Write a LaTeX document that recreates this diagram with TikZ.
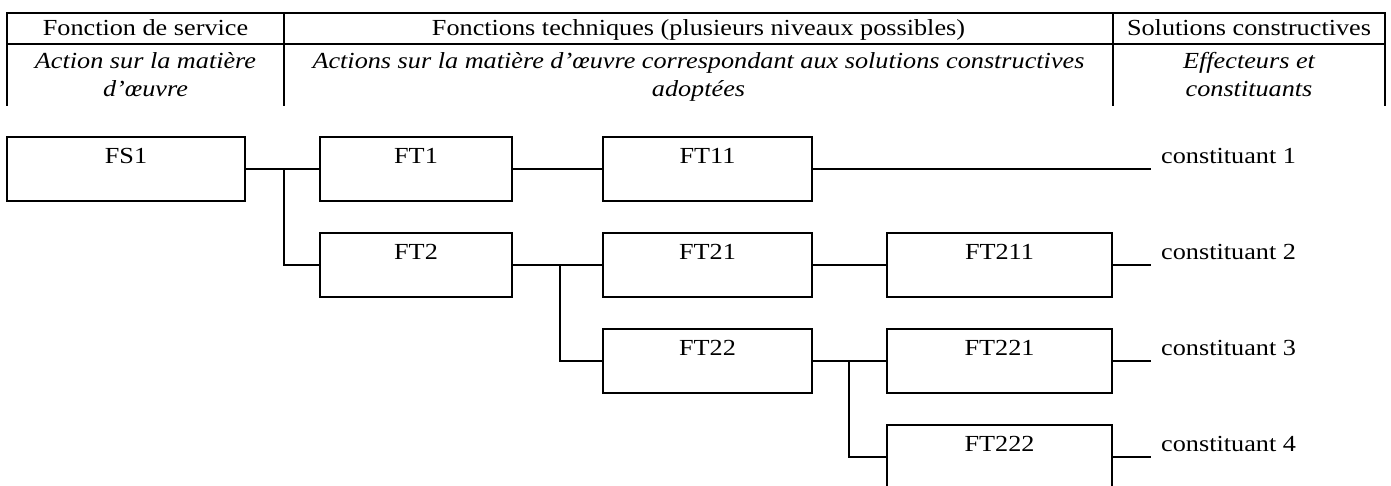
\documentclass[tikz,border=0pt]{standalone}
\usepackage{fontspec}
\usepackage{graphicx}
\setmainfont{Liberation Serif}
\newcommand{\sx}[1]{\scalebox{1.14}[1]{#1}}
\tikzset{
  ln/.style={line width=2pt, line cap=rect},
  fbox/.style={draw, line width=2pt, rectangle, inner sep=0pt, outer sep=0pt, minimum height=64pt, anchor=north west},
  lab/.style={inner sep=0pt, anchor=base, font=\fontsize{23}{28}\selectfont},
  itlab/.style={lab, font=\fontsize{23}{28}\selectfont\itshape},
  clab/.style={lab, anchor=base west},
  conn/.style={line width=2pt}
}
\begin{document}
\begin{tikzpicture}[x=1pt,y=-1pt]
\clip (0,0) rectangle (1391,485);
% header table
\draw[ln] (7,13) -- (1385,13);
\draw[ln] (7,44) -- (1385,44);
\draw[line width=2pt] (7,12) -- (7,106);
\draw[line width=2pt] (284,12) -- (284,106);
\draw[line width=2pt] (1113,12) -- (1113,106);
\draw[line width=2pt] (1385,12) -- (1385,106);
\node[lab] (h1) at (145.5,35) {\sx{Fonction de service}};
\node[lab] (h2) at (698.5,35) {\sx{Fonctions techniques (plusieurs niveaux possibles)}};
\node[lab] (h3) at (1249,35) {\sx{Solutions constructives}};
\node[itlab] (h1a) at (145.5,68) {\sx{Action sur la matière}};
\node[itlab] (h1b) at (145.5,96) {\sx{d’œuvre}};
\node[itlab] (h2a) at (698.5,68) {\sx{Actions sur la matière d’œuvre correspondant aux solutions constructives}};
\node[itlab] (h2b) at (698.5,96) {\sx{adoptées}};
\node[itlab] (h3a) at (1249,68) {\sx{Effecteurs et}};
\node[itlab] (h3b) at (1249,96) {\sx{constituants}};
% boxes
\node[fbox, minimum width=238pt, label={[lab, yshift=-26pt]north:\sx{FS1}}] (fs1) at (7,137) {};
\node[fbox, minimum width=192pt, label={[lab, yshift=-26pt]north:\sx{FT1}}] (ft1) at (320,137) {};
\node[fbox, minimum width=192pt, label={[lab, yshift=-26pt]north:\sx{FT2}}] (ft2) at (320,233) {};
\node[fbox, minimum width=209pt, label={[lab, yshift=-26pt]north:\sx{FT11}}] (ft11) at (603,137) {};
\node[fbox, minimum width=209pt, label={[lab, yshift=-26pt]north:\sx{FT21}}] (ft21) at (603,233) {};
\node[fbox, minimum width=209pt, label={[lab, yshift=-26pt]north:\sx{FT22}}] (ft22) at (603,329) {};
\node[fbox, minimum width=225pt, label={[lab, yshift=-26pt]north:\sx{FT211}}] (ft211) at (887,233) {};
\node[fbox, minimum width=225pt, label={[lab, yshift=-26pt]north:\sx{FT221}}] (ft221) at (887,329) {};
\node[fbox, minimum width=225pt, label={[lab, yshift=-26pt]north:\sx{FT222}}] (ft222) at (887,425) {};
% constituants
\node[clab] (c1) at (1161,163) {\sx{constituant 1}};
\node[clab] (c2) at (1161,259) {\sx{constituant 2}};
\node[clab] (c3) at (1161,355) {\sx{constituant 3}};
\node[clab] (c4) at (1161,451) {\sx{constituant 4}};
\coordinate (e1) at (1151,169);
\coordinate (e2) at (1151,265);
\coordinate (e3) at (1151,361);
\coordinate (e4) at (1151,457);
% junctions
\coordinate (j1) at (284,169);
\coordinate (j2) at (560,265);
\coordinate (j3) at (849,361);
% connectors
\draw[conn] (fs1.east) -- (ft1.west);
\draw[conn] (j1) |- (ft2.west);
\draw[conn] (ft1.east) -- (ft11.west);
\draw[conn] (ft11.east) -- (e1);
\draw[conn] (ft2.east) -- (ft21.west);
\draw[conn] (j2) |- (ft22.west);
\draw[conn] (ft21.east) -- (ft211.west);
\draw[conn] (ft211.east) -- (e2);
\draw[conn] (ft22.east) -- (ft221.west);
\draw[conn] (j3) |- (ft222.west);
\draw[conn] (ft221.east) -- (e3);
\draw[conn] (ft222.east) -- (e4);
\end{tikzpicture}
\end{document}
